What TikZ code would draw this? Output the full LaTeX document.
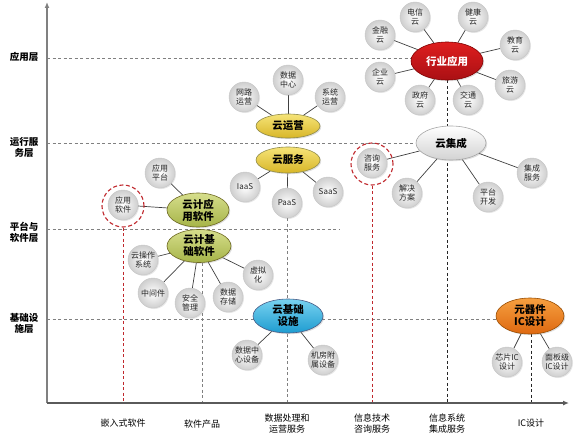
\documentclass[tikz,border=0pt]{standalone}
\usepackage{fontspec}
\setmainfont{Noto Sans CJK SC}
\usetikzlibrary{shapes.geometric,arrows.meta,backgrounds,shadows}
\definecolor{axisgray}{HTML}{808080}
\definecolor{dashred}{HTML}{C0282D}
\definecolor{linkgray}{HTML}{404040}
\begin{document}
\begin{tikzpicture}[x=1pt,y=-1pt,
  sat/.style={circle, minimum size=30pt, inner sep=0pt, draw=gray!45, line width=0.4pt,
    inner color=white, outer color=gray!38, font=\fontsize{8}{9}\selectfont, align=center, text=black!85,
    drop shadow={shadow xshift=1pt, shadow yshift=-1pt, opacity=0.2}},
  hub/.style={ellipse, inner sep=0pt, line width=0.6pt, align=center,
    font=\fontsize{10.5}{12}\selectfont\bfseries,
    drop shadow={shadow xshift=1.2pt, shadow yshift=-1.2pt, opacity=0.25}},
  redhub/.style={hub, draw=red!50!black, top color={rgb,255:red,222;green,30;blue,30}, bottom color={rgb,255:red,170;green,16;blue,20}, text=white},
  yelhub/.style={hub, draw=yellow!50!black, top color={rgb,255:red,246;green,228;blue,120}, bottom color={rgb,255:red,216;green,182;blue,40}, text=black},
  grnhub/.style={hub, draw=olive!70!black, top color={rgb,255:red,214;green,222;blue,140}, bottom color={rgb,255:red,166;green,180;blue,72}, text=black},
  bluhub/.style={hub, draw=cyan!40!blue!60!black, top color={rgb,255:red,120;green,210;blue,240}, bottom color={rgb,255:red,30;green,156;blue,208}, text=black},
  orghub/.style={hub, draw=orange!60!black, top color={rgb,255:red,246;green,160;blue,64}, bottom color={rgb,255:red,222;green,104;blue,16}, text=black},
  gryhub/.style={hub, draw=gray!70, top color=white, bottom color=gray!35, text=black},
  link/.style={draw=linkgray, line width=0.7pt},
  layerline/.style={draw=axisgray, line width=1pt, dash pattern=on 3pt off 2.5pt},
  vdash/.style={line width=1pt, dash pattern=on 3pt off 2.5pt},
  redring/.style={circle, draw=dashred, line width=1.1pt, dash pattern=on 4pt off 2.5pt, minimum size=42pt, inner sep=0pt},
  layerlabel/.style={font=\fontsize{9.5}{11}\selectfont\bfseries, align=center},
  axislabel/.style={font=\fontsize{9}{11}\selectfont, align=center}
]
\useasboundingbox (0,0) rectangle (577,441);

% axis coordinates
\coordinate (O) at (47,403);
\coordinate (Ytop) at (47,2);
\coordinate (Xend) at (569,403);

% layer labels
\node[layerlabel] (l1) at (24,57) {应用层};
\node[layerlabel] (l2) at (24,147) {运行服\\务层};
\node[layerlabel] (l3) at (24,232) {平台与\\软件层};
\node[layerlabel] (l4) at (24,323) {基础设\\施层};

% axis labels
\node[axislabel] (b1) at (123,423) {嵌入式软件};
\node[axislabel] (b2) at (202,424) {软件产品};
\node[axislabel] (b3) at (287,424) {数据处理和\\运营服务};
\node[axislabel] (b4) at (372,424) {信息技术\\咨询服务};
\node[axislabel] (b5) at (447,424) {信息系统\\集成服务};
\node[axislabel] (b6) at (531,423) {IC设计};

% hubs
\node[redhub, minimum width=72pt, minimum height=38pt] (hy) at (447,61) {行业应用};
\node[yelhub, minimum width=64pt, minimum height=24pt] (yy) at (288,126) {云运营};
\node[yelhub, minimum width=64pt, minimum height=26pt] (yf) at (288,160) {云服务};
\node[gryhub, minimum width=70pt, minimum height=34pt] (jc) at (451,143) {云集成};
\node[grnhub, minimum width=62pt, minimum height=34pt] (ya) at (198,210) {云计应\\用软件};
\node[grnhub, minimum width=64pt, minimum height=33pt] (yj) at (199,246) {云计基\\础软件};
\node[bluhub, minimum width=70pt, minimum height=34pt] (ss) at (288,316) {云基础\\设施};
\node[orghub, minimum width=68pt, minimum height=36pt] (ic) at (530,316) {元器件\\IC设计};

% satellites
\node[sat] (jr) at (380,35) {金融\\云};
\node[sat] (dx) at (415,17) {电信\\云};
\node[sat] (jk) at (473,17) {健康\\云};
\node[sat] (jy) at (515,45) {教育\\云};
\node[sat] (ly) at (510,85) {旅游\\云};
\node[sat] (jt) at (468,100) {交通\\云};
\node[sat] (zf) at (420,100) {政府\\云};
\node[sat] (qy) at (380,77) {企业\\云};

\node[sat] (wl) at (244,97) {网路\\运营};
\node[sat] (sj) at (288,80) {数据\\中心};
\node[sat] (xt) at (330,97) {系统\\运营};

\node[sat] (iaas) at (245,187) {IaaS};
\node[sat] (paas) at (287,203) {PaaS};
\node[sat] (saas) at (328,192) {SaaS};

\node[sat] (zx) at (372,163) {咨询\\服务};
\node[sat] (jj) at (407,193) {解决\\方案};
\node[sat] (pt) at (488,197) {平台\\开发};
\node[sat] (jf2) at (532,173) {集成\\服务};

\node[sat] (yypt) at (160,173) {应用\\平台};
\node[sat] (yyrj) at (123,205) {应用\\软件};

\node[sat] (czxt) at (143,260) {云操作\\系统};
\node[sat] (zjj) at (153,293) {中间件};
\node[sat] (aq) at (190,303) {安全\\管理};
\node[sat] (sjcc) at (228,297) {数据\\存储};
\node[sat] (xn) at (258,275) {虚拟\\化};

\node[sat] (sjzx) at (247,355) {数据中\\心设备};
\node[sat] (jfss) at (323,360) {机房附\\属设备};

\node[sat] (xp) at (507,362) {芯片IC\\设计};
\node[sat] (mb) at (557,362) {面板级\\IC设计};

% red rings
\node[redring] (rc1) at (123,206) {};
\node[redring] (rc2) at (372,164) {};

% bottom coordinates of vertical dashed lines
\coordinate (v1) at (123,403);
\coordinate (v2t) at (202,263);
\coordinate (v2) at (202,403);
\coordinate (v3) at (287,403);
\coordinate (v4) at (372,403);
\coordinate (v5) at (447,403);
\coordinate (v6t) at (531,334);
\coordinate (v6) at (531,403);
% layer line ends
\coordinate (h1s) at (47,59);
\coordinate (h2s) at (47,143);
\coordinate (h2e) at (417,143);
\coordinate (h3s) at (47,229);
\coordinate (h3e) at (340,229);
\coordinate (h4s) at (47,319);

\begin{scope}[on background layer]
  % layer lines
  \draw[layerline] (h1s) -- (hy.west |- h1s);
  \draw[layerline] (h2s) -- (h2e);
  \draw[layerline] (h3s) -- (h3e);
  \draw[layerline] (h4s) -- (ic.west |- h4s);
  % vertical dashed lines
  \draw[vdash, draw=dashred] (rc1.south) -- (v1);
  \draw[vdash, draw=axisgray] (v2t) -- (v2);
  \draw[vdash, draw=axisgray] (paas.south) -- (v3);
  \draw[vdash, draw=dashred] (rc2.south) -- (v4);
  \draw[vdash, draw=black!85] (hy.south) -- (v5);
  \draw[vdash, draw=black!85] (v6t) -- (v6);
  % links
  \foreach \s in {jr,dx,jk,jy,ly,jt,zf,qy} \draw[link] (hy) -- (\s);
  \foreach \s in {wl,sj,xt} \draw[link] (yy) -- (\s);
  \foreach \s in {iaas,paas,saas} \draw[link] (yf) -- (\s);
  \foreach \s in {zx,jj,pt,jf2} \draw[link] (jc) -- (\s);
  \foreach \s in {yypt,yyrj} \draw[link] (ya) -- (\s);
  \foreach \s in {czxt,zjj,aq,sjcc,xn} \draw[link] (yj) -- (\s);
  \foreach \s in {sjzx,jfss} \draw[link] (ss) -- (\s);
  \foreach \s in {xp,mb} \draw[link] (ic) -- (\s);
\end{scope}

% axes
\draw[draw=axisgray, line width=1.2pt, -{Latex[length=6pt,width=5pt]}] (O) -- (Ytop);
\draw[draw=axisgray!70!black, line width=1.2pt, -{Latex[length=6pt,width=5pt]}] (O) -- (Xend);
\end{tikzpicture}
\end{document}
